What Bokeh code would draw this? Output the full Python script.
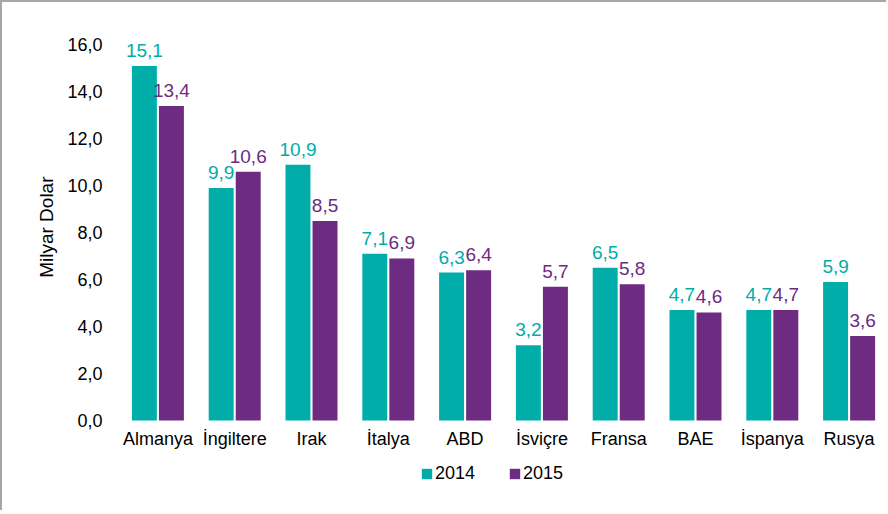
from bokeh.plotting import figure
from bokeh.models import (ColumnDataSource, FactorRange, Range1d, FixedTicker,
                          Legend, LegendItem, Title)
from bokeh.transform import dodge
from bokeh.core.properties import value
from bokeh.embed import file_html
from bokeh.resources import INLINE

countries = ["Almanya", "İngiltere", "Irak", "İtalya", "ABD", "İsviçre", "Fransa", "BAE", "İspanya", "Rusya"]
v2014 = [15.1, 9.9, 10.9, 7.1, 6.3, 3.2, 6.5, 4.7, 4.7, 5.9]
v2015 = [13.4, 10.6, 8.5, 6.9, 6.4, 5.7, 5.8, 4.6, 4.7, 3.6]
series = ["2014", "2015"]
y_ticks = [0, 2, 4, 6, 8, 10, 12, 14, 16]
y_title = "Milyar Dolar"

TEAL = "#00ADA8"
PURPLE = "#6E2B82"
FONT = "Liberation Sans"


def fmt(v):
    return f"{v:.1f}".replace(".", ",")


src = ColumnDataSource(dict(
    country=countries,
    v2014=v2014,
    v2015=v2015,
    l2014=[fmt(v) for v in v2014],
    l2015=[fmt(v) for v in v2015],
))

p = figure(
    width=886, height=510,
    x_range=FactorRange(*countries),
    y_range=Range1d(-3.5, 17),
    output_backend="svg",
    toolbar_location=None,
    min_border_left=117, min_border_right=1,
    min_border_top=19, min_border_bottom=10,
)
p.styles = {"border-left": "2px solid #A6A6A6", "border-top": "2px solid #A6A6A6"}

off = 0.176
bw = 0.325
r1 = p.vbar(x=dodge("country", -off, range=p.x_range), top="v2014", width=bw,
            source=src, fill_color=TEAL, line_color=None)
r2 = p.vbar(x=dodge("country", off, range=p.x_range), top="v2015", width=bw,
            source=src, fill_color=PURPLE, line_color=None)

p.text(x=dodge("country", -off, range=p.x_range), y="v2014", text="l2014", source=src,
       text_align="center", text_baseline="top", y_offset=-22,
       text_font=value(FONT), text_font_size="19px", text_color=TEAL)
p.text(x=dodge("country", off, range=p.x_range), y="v2015", text="l2015", source=src,
       text_align="center", text_baseline="top", y_offset=-22,
       text_font=value(FONT), text_font_size="19px", text_color=PURPLE)

# category labels under the bars (x axis itself hidden, frame extends below for the legend)
p.text(x="country", y=0, text="country", source=src,
       text_align="center", text_baseline="top", y_offset=9,
       text_font=value(FONT), text_font_size="18px", text_color="black")
p.xaxis.visible = False

p.xgrid.grid_line_color = None
p.ygrid.grid_line_color = None
p.outline_line_color = None

yax = p.yaxis[0]
yax.ticker = FixedTicker(ticks=y_ticks)
yax.major_label_overrides = {t: fmt(t) for t in y_ticks}
yax.axis_line_color = None
yax.major_tick_line_color = None
yax.minor_tick_line_color = None
yax.major_tick_in = 0
yax.major_tick_out = 0
yax.major_label_text_font = FONT
yax.major_label_text_font_size = "18px"
yax.major_label_text_color = "black"
yax.major_label_standoff = 17

ttl = Title(text=y_title, align="right", offset=155,
            text_font=FONT, text_font_size="19px", text_font_style="normal",
            text_color="black")
if "standoff" in Title.properties():
    ttl.standoff = 16
p.add_layout(ttl, "left")

legend = Legend(
    items=[LegendItem(label=series[0], renderers=[r1]), LegendItem(label=series[1], renderers=[r2])],
    orientation="horizontal",
    location=(301, 18),
    glyph_width=13, glyph_height=13,
    label_standoff=2, spacing=33,
    padding=0, margin=0,
    border_line_color=None, background_fill_alpha=0,
    label_text_font=FONT, label_text_font_size="18px", label_text_color="black",
    label_height=20,
)
p.add_layout(legend)

open("out.html", "w").write(file_html(p, INLINE))
